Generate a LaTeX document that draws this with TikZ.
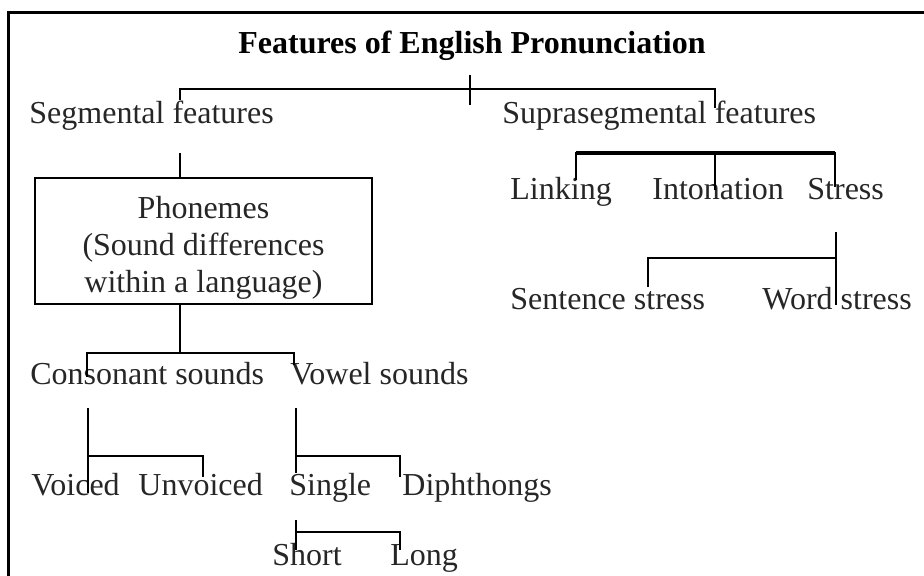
\documentclass[tikz,border=0pt]{standalone}
\usepackage{fontspec}
\setmainfont{Liberation Serif}
\usetikzlibrary{calc}

\begin{document}
\begin{tikzpicture}[x=0.5pt, y=-0.5pt, every node/.style={inner sep=0pt,
  font=\fontsize{16}{18.35}\selectfont}, txt/.style={anchor=base west, text=black!85},
  link/.style={line width=1pt}, bar/.style={line width=1.6pt}]
  \useasboundingbox (0,0) rectangle (924,576);
  \draw[line width=1.5pt] (924,13) -- (8,13) -- (8,576);
  \node[anchor=base] (title) at (472,54) {\textbf{Features of English Pronunciation}};
  \node[txt] (seg)   at (29,124)  {Segmental features};
  \node[txt] (supra) at (502,124) {Suprasegmental features};
  \node[draw, line width=1pt, minimum width=168.5pt, minimum height=63pt]
    (phon) at (203.5,241) {};
  \node[anchor=north, align=center, text=black!85] (phontxt) at (203.5,196)
    {Phonemes\\(Sound differences\\within a language)};
  \foreach \n/\x/\t in {linking/510/Linking, inton/652/Intonation, stress/807/Stress}
    \node[txt] (\n) at (\x,200) {\t};
  \node[txt] (sent) at (510,310) {Sentence stress};
  \node[txt] (word) at (762,310) {Word stress};
  \node[txt] (cons) at (30,385)  {Consonant sounds};
  \node[txt] (vow)  at (290,385) {Vowel sounds};
  \foreach \n/\x/\t in {voiced/31/Voiced, unvoiced/138/Unvoiced, single/289/Single,
    diph/402/Diphthongs}
    \node[txt] (\n) at (\x,495) {\t};
  \node[txt] (short) at (272,565) {Short};
  \node[txt] (long)  at (390,565) {Long};
  % title -> segmental / suprasegmental
  \coordinate (t1) at (470,75);
  \coordinate (t2) at (470,105);
  \coordinate (tb) at (470,89);
  \coordinate (t3) at (180,100);
  \coordinate (t4) at (715,108);
  \draw[link] (t1) -- (t2);
  \draw[link] (t3) |- (tb) -| (t4);
  % segmental -> phonemes -> consonant / vowel
  \coordinate (s1) at (180,153);
  \draw[link] (s1) -- (s1 |- phon.north);
  \coordinate (p1) at (180,353);
  \coordinate (p2) at (87,377);
  \coordinate (p3) at (294,365);
  \draw[line width=1.3pt] (p1 |- phon.south) -- (p1);
  \draw[link] (p2) |- (p1) -| (p3);
  % linking / intonation / stress
  \coordinate (q1) at (715,153);
  \coordinate (q2) at (576,180);
  \coordinate (q3) at (835,187);
  \coordinate (q4) at (715,190);
  \draw[link] (q2) |- (q1) -| (q3);
  \draw[link] (q1) -- (q4);
  \draw[bar] (q2 |- q1) -- (q3 |- q1);
  % stress -> sentence / word
  \coordinate (r1) at (836,232);
  \coordinate (r2) at (836,305);
  \coordinate (rb) at (836,258);
  \coordinate (r3) at (648,287);
  \draw[link] (r1) -- (r2);
  \draw[link] (r3) |- (rb);
  % consonant -> voiced / unvoiced
  \coordinate (c1) at (88,408);
  \coordinate (c2) at (88,493);
  \coordinate (cb) at (88,456);
  \coordinate (c3) at (203,477);
  \draw[link] (c1) -- (c2);
  \draw[link] (cb) -| (c3);
  % vowel -> single / diphthongs
  \coordinate (v1) at (296,408);
  \coordinate (v2) at (296,473);
  \coordinate (vb) at (296,456);
  \coordinate (v3) at (400,477);
  \draw[link] (v1) -- (v2);
  \draw[link] (vb) -| (v3);
  % single -> short / long
  \coordinate (g1) at (296,520);
  \coordinate (g2) at (296,550);
  \coordinate (gb) at (296,532);
  \coordinate (g3) at (400,550);
  \draw[link] (g1) -- (g2);
  \draw[link] (gb) -| (g3);
\end{tikzpicture}
\end{document}
